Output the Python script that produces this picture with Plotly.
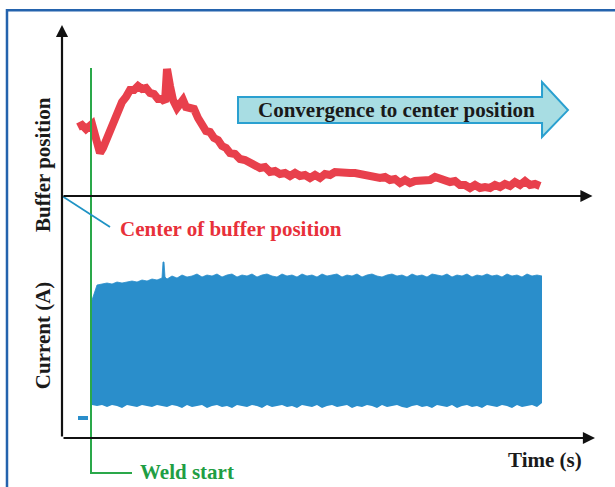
import plotly.graph_objects as go

# ---- data ----
# buffer position (mm, 0 = buffer centre) vs time (s)
buf_t = [0.32, 0.40, 0.48, 0.54, 0.60, 0.66, 0.72, 0.76, 0.82, 0.90, 0.96, 1.04, 1.12, 1.20,
         1.28, 1.36, 1.44, 1.52, 1.60, 1.68, 1.76, 1.84, 1.92, 2.00, 2.06, 2.10, 2.16, 2.22,
         2.30, 2.36, 2.42, 2.48, 2.56, 2.64, 2.72, 2.80, 2.88, 2.96, 3.04, 3.12, 3.20, 3.28,
         3.36, 3.46, 3.56, 3.66, 3.76, 3.86, 3.96, 4.06, 4.16, 4.26, 4.36, 4.46, 4.56, 4.66,
         4.76, 4.86, 4.96, 5.06, 5.16, 5.26, 5.36, 5.46, 5.56, 5.66, 5.76, 5.86, 5.96, 6.06,
         6.16, 6.26, 6.36, 6.46, 6.56, 6.66, 6.76, 6.86, 6.96, 7.06, 7.16, 7.26, 7.36, 7.46,
         7.56, 7.66, 7.76, 7.86, 7.96, 8.06, 8.16, 8.26, 8.36, 8.46, 8.56, 8.66, 8.76, 8.86,
         8.96, 9.06, 9.16, 9.26, 9.36, 9.46, 9.56]
buf_pos = [6.9, 7.1, 6.7, 6.9, 7.2, 6.1, 4.6, 4.3, 4.8, 5.8, 6.8, 7.8, 8.6, 9.4,
           9.9, 10.6, 10.6, 11.0, 10.7, 10.8, 10.3, 10.2, 9.7, 9.7, 9.4, 12.7, 11.0, 9.6,
           8.8, 9.2, 9.6, 8.9, 8.9, 8.7, 7.8, 7.1, 6.5, 6.4, 5.8, 5.6, 5.0, 4.8,
           4.3, 4.2, 3.7, 3.6, 3.3, 3.2, 2.8, 2.9, 2.4, 2.5, 2.2, 2.3, 2.0, 2.3,
           2.0, 2.1, 1.8, 2.1, 1.8, 2.2, 2.1, 2.4, 2.3, 2.4, 2.3, 2.3, 2.2, 2.2,
           1.9, 2.0, 1.8, 1.9, 1.6, 1.7, 1.3, 1.6, 1.3, 1.5, 1.5, 1.6, 1.6, 1.9,
           1.7, 1.7, 1.4, 1.5, 1.1, 1.1, 0.8, 1.1, 0.8, 0.9, 0.8, 1.1, 0.9, 1.2,
           1.0, 1.4, 1.1, 1.5, 1.1, 1.2, 1.0]

# welding current envelope (A) vs time (s)
cur_t = [0.60, 0.70, 0.80, 0.90, 1.00, 1.10, 1.20, 1.30, 1.40, 1.50, 1.60, 1.70, 1.80, 1.90,
         2.00, 2.02, 2.04, 2.06, 2.10, 2.20, 2.30, 2.40, 2.50, 2.60, 2.70, 2.80, 2.90, 3.00,
         3.10, 3.20, 3.30, 3.40, 3.50, 3.60, 3.70, 3.80, 3.90, 4.00, 4.10, 4.20, 4.30, 4.40,
         4.50, 4.60, 4.70, 4.80, 4.90, 5.00, 5.10, 5.20, 5.30, 5.40, 5.50, 5.60, 5.70, 5.80,
         5.90, 6.00, 6.10, 6.20, 6.30, 6.40, 6.50, 6.60, 6.70, 6.80, 6.90, 7.00, 7.10, 7.20,
         7.30, 7.40, 7.50, 7.60, 7.70, 7.80, 7.90, 8.00, 8.10, 8.20, 8.30, 8.40, 8.50, 8.60,
         8.70, 8.80, 8.90, 9.00, 9.10, 9.20, 9.30, 9.40, 9.50, 9.60]
cur_max = [276, 306, 308, 310, 308, 312, 310, 312, 314, 312, 316, 314, 318, 316,
           320, 352, 352, 322, 318, 324, 320, 326, 322, 324, 328, 322, 326, 324,
           328, 322, 326, 328, 322, 326, 324, 328, 322, 326, 328, 324, 322, 328,
           324, 326, 322, 328, 324, 326, 322, 328, 324, 326, 328, 322, 326, 324,
           328, 322, 326, 328, 324, 322, 326, 328, 324, 326, 322, 328, 324, 326,
           322, 328, 326, 324, 328, 322, 326, 324, 328, 322, 326, 324, 328, 324,
           326, 322, 328, 324, 326, 322, 328, 324, 326, 324]
cur_min = [66, 64, 66, 62, 66, 64, 60, 66, 64, 62, 66, 64, 62, 66,
           64, 64, 64, 64, 62, 66, 64, 60, 66, 62, 64, 66, 60, 64,
           66, 62, 64, 60, 66, 64, 62, 66, 64, 60, 66, 62, 64, 66,
           62, 64, 60, 66, 64, 62, 66, 60, 64, 66, 62, 64, 66, 60,
           64, 62, 66, 64, 60, 66, 62, 64, 66, 62, 60, 64, 66, 62,
           64, 60, 66, 64, 62, 66, 60, 64, 66, 62, 64, 60, 66, 64,
           62, 66, 64, 60, 66, 62, 64, 66, 62, 70]

# current before arc ignition
pre_t = [0.32, 0.52]
pre_cur = [40, 40]

weld_start_t = 0.58
t_max = 10.66
cur_range = [0, 826]
buf_range = [-24.2, 17.1]

RED = "#e8404c"
BLUE = "#2a8ecb"
GREEN = "#2aa84a"
SERIF = "Liberation Serif"
FS = 21

fig = go.Figure()

# current band
fig.add_trace(go.Scatter(x=cur_t, y=cur_min, mode="lines", line=dict(width=0, color=BLUE),
                         hoverinfo="skip", yaxis="y"))
fig.add_trace(go.Scatter(x=cur_t, y=cur_max, mode="lines", line=dict(width=0.8, color=BLUE),
                         fill="tonexty", fillcolor=BLUE, yaxis="y", name="Current"))
fig.add_trace(go.Scatter(x=pre_t, y=pre_cur, mode="lines", line=dict(width=4, color=BLUE),
                         yaxis="y"))
# buffer position
fig.add_trace(go.Scatter(x=buf_t, y=buf_pos, mode="lines",
                         line=dict(width=8, color=RED), yaxis="y2", name="Buffer position"))

shapes = []
# outer frame
shapes.append(dict(type="rect", xref="paper", yref="paper", x0=-0.1032, x1=1.2, y0=-0.3, y1=1.036,
                   line=dict(color="#2463ad", width=2.5), fillcolor="rgba(0,0,0,0)", layer="below"))
# weld start line
shapes.append(dict(type="path", xref="x", yref="paper",
                   path=f"M {weld_start_t},0.896 L {weld_start_t},-0.0847 L 1.40,-0.0847",
                   line=dict(color=GREEN, width=2)))
# leader line to centre of buffer position
shapes.append(dict(type="line", xref="x", yref="y2", x0=0, y0=0, x1=0.96, y1=-3.1,
                   line=dict(color="#1f93c4", width=1.8)))
# convergence arrow
shapes.append(dict(type="path", xref="paper", yref="paper",
                   path="M 0.3302,0.8257 L 0.9006,0.8257 L 0.9006,0.862 L 0.9493,0.794 "
                        "L 0.9006,0.7288 L 0.9006,0.7627 L 0.3302,0.7627 Z",
                   line=dict(color="#2aa0d0", width=2), fillcolor="#a8dde3"))

annotations = []
# axes as arrows
arrow = dict(text="", showarrow=True, arrowhead=2, arrowsize=1.1, arrowwidth=2.2,
             arrowcolor="#111111", standoff=0)
annotations.append(dict(arrow, x=0, y=cur_range[1], ax=0, ay=cur_range[0],
                        xref="x", yref="y", axref="x", ayref="y"))
annotations.append(dict(arrow, x=t_max, y=cur_range[0], ax=0, ay=cur_range[0],
                        xref="x", yref="y", axref="x", ayref="y"))
annotations.append(dict(arrow, x=t_max - 0.05, y=0, ax=0, ay=0,
                        xref="x", yref="y2", axref="x", ayref="y2"))

txt = dict(showarrow=False, xref="paper", yref="paper", xanchor="center", yanchor="middle")
annotations.append(dict(txt, x=0.6285, y=0.794, text="<b>Convergence to center position</b>",
                        font=dict(family=SERIF, size=FS, color="#1a1a1a")))
annotations.append(dict(txt, x=0.105, y=0.506, xanchor="left",
                        text="<b>Center of buffer position</b>",
                        font=dict(family=SERIF, size=FS, color="#e8303a")))
annotations.append(dict(txt, x=0.1426, y=-0.0823, xanchor="left", text="<b>Weld start</b>",
                        font=dict(family=SERIF, size=FS, color="#1f9e44")))
annotations.append(dict(txt, x=0.906, y=-0.053, text="<b>Time (s)</b>",
                        font=dict(family=SERIF, size=FS, color="#1a1a1a")))
annotations.append(dict(txt, x=-0.0356, y=0.661, text="<b>Buffer position</b>", textangle=-90,
                        font=dict(family=SERIF, size=FS, color="#1a1a1a")))
annotations.append(dict(txt, x=-0.0356, y=0.249, text="<b>Current (A)</b>", textangle=-90,
                        font=dict(family=SERIF, size=FS, color="#1a1a1a")))

fig.update_layout(
    width=615, height=487,
    margin=dict(l=62, r=20, t=25, b=49),
    paper_bgcolor="white", plot_bgcolor="white",
    showlegend=False,
    xaxis=dict(range=[0, t_max], visible=False, fixedrange=True),
    yaxis=dict(range=cur_range, visible=False, fixedrange=True),
    yaxis2=dict(range=buf_range, visible=False, overlaying="y", fixedrange=True),
    shapes=shapes, annotations=annotations,
)

fig.write_html("out.html", config={"displayModeBar": False},
               post_script="document.body.style.margin='0';")
